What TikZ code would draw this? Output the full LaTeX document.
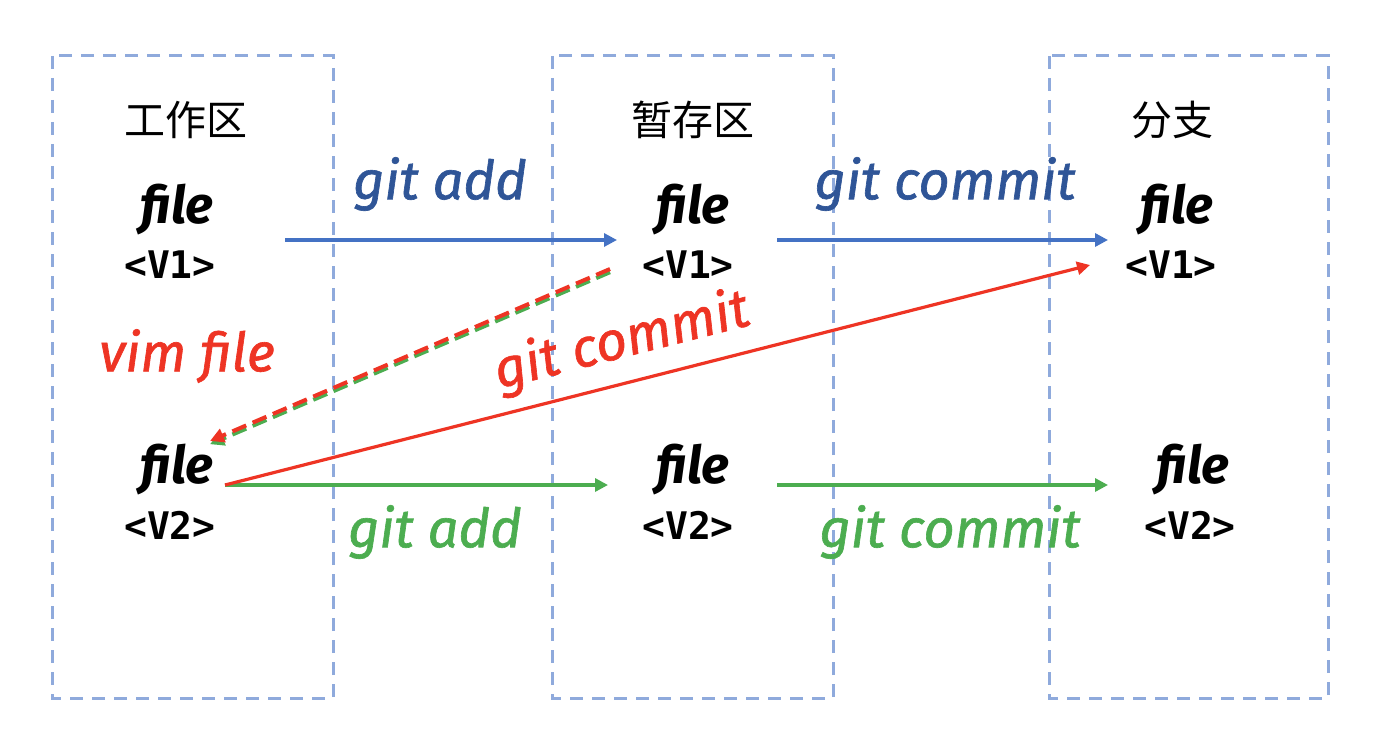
\documentclass[tikz,border=0pt]{standalone}
\usepackage{fontspec}
\setmainfont{Fira Sans}
\newfontfamily\cjk{Noto Sans CJK SC}
\newfontfamily\hand{Fira Sans}[FakeBold=1.2]
\newfontfamily\verfont{DejaVu Sans Mono}
\usetikzlibrary{arrows.meta}
\definecolor{boxc}{HTML}{8FAADC}
\definecolor{blueline}{HTML}{4472C4}
\definecolor{bluetext}{HTML}{2F5597}
\definecolor{greenc}{HTML}{4CAD50}
\definecolor{redc}{HTML}{EE3424}
\tikzset{
  zone/.style={draw=boxc, line width=1.5pt, dash pattern=on 6.5pt off 4.5pt},
  title/.style={font=\cjk\fontsize{20.5}{22}\selectfont, inner sep=0pt},
  fname/.style={font=\bfseries\itshape\fontsize{26}{28}\selectfont, inner sep=0pt},
  ver/.style={font=\verfont\bfseries\fontsize{19}{21}\selectfont, inner sep=0pt},
  lbl/.style={font=\hand\itshape\fontsize{27}{29}\selectfont, inner sep=0pt},
  arr/.style={line width=1.6pt, -{Triangle[length=6.5pt,width=6.5pt]}},
  darr/.style={line width=2pt, dash pattern=on 7.5pt off 3.5pt, -{Triangle[length=7pt,width=7pt]}},
}
\begin{document}
\begin{tikzpicture}[x=0.5pt,y=-0.5pt]
\useasboundingbox (0,0) rectangle (1374,754);
% zones
\draw[zone] (52,56) rectangle (333,698);
\draw[zone] (552,56) rectangle (833,698);
\draw[zone] (1049,56) rectangle (1328,698);
% titles
\node[title] (t1) at (186,120) {工作区};
\node[title] (t2) at (693,120) {暂存区};
\node[title] (t3) at (1172,120) {分支};
% files
\node[fname] (f1a) at (177,210) {file};
\node[ver]   (v1a) at (170,265) {<V1>};
\node[fname] (f2a) at (693,210) {file};
\node[ver]   (v2a) at (688,265) {<V1>};
\node[fname] (f3a) at (1177,210) {file};
\node[ver]   (v3a) at (1171,265) {<V1>};
\node[fname] (f1b) at (177,470) {file};
\node[ver]   (v1b) at (170,525) {<V2>};
\node[fname] (f2b) at (693,470) {file};
\node[ver]   (v2b) at (688,525) {<V2>};
\node[fname] (f3b) at (1193,470) {file};
\node[ver]   (v3b) at (1190,525) {<V2>};
% endpoints
\coordinate (a1s) at (285,240);
\coordinate (a1e) at (617,240);
\coordinate (a2s) at (777,240);
\coordinate (a2e) at (1108,240);
\coordinate (b1s) at (225,485);
\coordinate (b1e) at (608,485);
\coordinate (b2s) at (777,485);
\coordinate (b2e) at (1108,485);
\coordinate (rs) at (225,485);
\coordinate (re) at (1090,265);
\coordinate (ds) at (610,269);
\coordinate (de) at (210,441);
% arrows
\draw[arr, blueline] (a1s) -- (a1e);
\draw[arr, blueline] (a2s) -- (a2e);
\draw[arr, greenc] (b1s) -- (b1e);
\draw[arr, greenc] (b2s) -- (b2e);
\draw[arr, redc] (rs) -- (re);
\draw[darr, greenc] ([yshift=-1.6pt]ds) -- ([yshift=-1.6pt]de);
\draw[darr, redc] (ds) -- (de);
% labels
\node[lbl, bluetext] (l1) at (440,184) {git add};
\node[lbl, bluetext] (l2) at (945,184) {git commit};
\node[lbl, greenc] (l3) at (435,532) {git add};
\node[lbl, greenc] (l4) at (950,532) {git commit};
\node[lbl, redc, rotate=14.3] (l5) at (622,342) {git commit};
\node[lbl, redc] (l6) at (187,356) {vim file};
\end{tikzpicture}
\end{document}
